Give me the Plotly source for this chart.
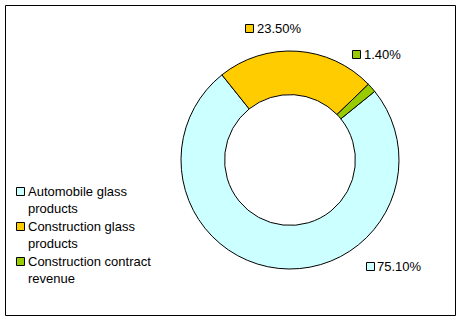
import plotly.graph_objects as go

# Revenue breakdown by business segment
categories = ["Automobile glass products", "Construction glass products", "Construction contract revenue"]
legend_labels = ["Automobile glass<br>products", "Construction glass<br>products", "Construction contract<br>revenue"]
shares = [75.10, 23.50, 1.40]
colors = ["#CCFFFF", "#FFCC00", "#99CC00"]

W, H = 462, 322
FONT = dict(family="Liberation Sans, Arial, sans-serif", size=13, color="#000000")


def px(x):
    return x / W


def py(y):
    return 1 - y / H


# donut geometry (pixels)
cx, cy, r = 290, 160, 109

fig = go.Figure()
fig.add_trace(go.Pie(
    labels=categories,
    values=shares,
    hole=0.6,
    sort=False,
    direction="clockwise",
    rotation=51,
    marker=dict(colors=colors, line=dict(color="#000000", width=1)),
    textinfo="none",
    hoverinfo="label+percent",
    showlegend=False,
    domain=dict(x=[px(cx - r), px(cx + r)], y=[py(cy + r), py(cy - r)]),
))

shapes = []
annotations = []

# frame around the chart (half-pixel offsets keep the 1px edge crisp)
shapes.append(dict(type="rect", xref="paper", yref="paper",
                   x0=px(5.5), x1=px(455.5), y0=py(315.5), y1=py(5.5),
                   line=dict(color="#000000", width=1), fillcolor="rgba(0,0,0,0)"))


def swatch(x, y, color):
    # colour box with a black edge, centred on (x, y)
    shapes.append(dict(type="rect", xref="paper", yref="paper",
                       x0=px(x - 4), x1=px(x + 4), y0=py(y + 4), y1=py(y - 4),
                       line=dict(color="#000000", width=1), fillcolor=color))


# value labels: box centre and text start for each slice
label_pos = [(370.5, 266.5, 376), (249.5, 28.5, 256), (356.5, 54.5, 363)]
for (bx, by, tx), v, c in zip(label_pos, shares, colors):
    swatch(bx, by, c)
    annotations.append(dict(xref="paper", yref="paper", x=px(tx), y=py(by),
                            xanchor="left", yanchor="middle", showarrow=False,
                            text=f"{v:.2f}%", font=FONT, borderpad=0))

# legend
legend_y = [191.5, 226.5, 261.5]
for ly, txt, c in zip(legend_y, legend_labels, colors):
    swatch(20.5, ly, c)
    annotations.append(dict(xref="paper", yref="paper", x=px(27), y=py(ly - 9),
                            xanchor="left", yanchor="top", align="left", showarrow=False,
                            text=txt, font=FONT, borderpad=0))

fig.update_layout(
    width=W, height=H,
    margin=dict(l=0, r=0, t=0, b=0),
    paper_bgcolor="#FFFFFF",
    plot_bgcolor="#FFFFFF",
    shapes=shapes,
    annotations=annotations,
    font=FONT,
)

fig.write_html("out.html")
